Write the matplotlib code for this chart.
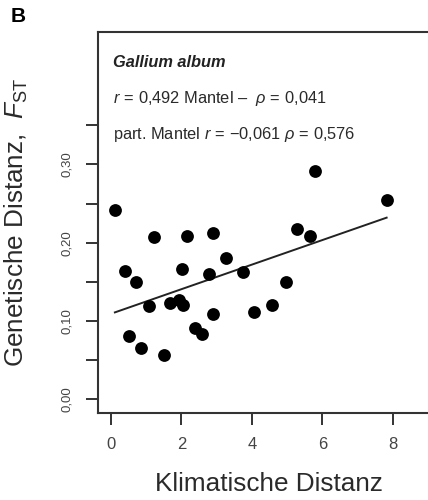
import numpy as np
import matplotlib
matplotlib.use("Agg")
import matplotlib.pyplot as plt

plt.rcParams['font.family'] = ['Liberation Sans', 'DejaVu Sans']
plt.rcParams['mathtext.fontset'] = 'custom'
plt.rcParams['mathtext.rm'] = 'Liberation Sans'
plt.rcParams['mathtext.it'] = 'Liberation Sans:italic'
plt.rcParams['mathtext.bf'] = 'Liberation Sans:bold'

# climatic distance vs. genetic distance (F_ST), Galium album
klima = [0.11, 5.79, 7.82, 1.23, 2.15, 2.88, 5.27, 5.66, 0.40, 0.70,
         2.02, 3.26, 2.78, 3.75, 4.96, 1.09, 1.67, 1.93, 2.05, 2.90,
         4.05, 4.56, 0.52, 0.84, 1.50, 2.38, 2.57]
fst = [0.242, 0.291, 0.2545, 0.207, 0.208, 0.213, 0.217, 0.208, 0.164, 0.150,
       0.166, 0.180, 0.160, 0.162, 0.150, 0.119, 0.123, 0.127, 0.120, 0.109,
       0.111, 0.121, 0.081, 0.066, 0.056, 0.0915, 0.084]

# regression line end points
fit_x = [0.11, 7.82]
fit_y = [0.111, 0.232]

xticks = [0, 2, 4, 6, 8]
yticks = [0.00, 0.05, 0.10, 0.15, 0.20, 0.25, 0.30, 0.35]
ylabels = ['0,00', '', '0,10', '', '0,20', '', '0,30', '']

grey = '#333333'

fig = plt.figure(figsize=(4.28, 5.0), dpi=100)
ax = fig.add_axes([0.2297, 0.174, 0.798, 0.7626])

ax.scatter(klima, fst, s=85, color='black', zorder=3, linewidths=0)
ax.plot(fit_x, fit_y, color='#222222', lw=1.4)

ax.set_xlim(-0.36, 9.33)
ax.set_ylim(-0.0175, 0.4695)
ax.set_xticks(xticks)
ax.set_xticklabels([str(t) for t in xticks], fontsize=12, color='#444444')
ax.set_yticks(yticks)
ax.set_yticklabels(ylabels, fontsize=9.5, color='#444444', rotation=90, va='center')
ax.tick_params(axis='both', direction='out', length=8.5, width=1.4, color=grey)
ax.tick_params(axis='x', pad=9)
ax.tick_params(axis='y', pad=10)

for side in ['left', 'bottom', 'top', 'right']:
    ax.spines[side].set_linewidth(1.5)
    ax.spines[side].set_color(grey)

ax.set_xlabel('Klimatische Distanz', fontsize=18.8, color='#2a2a2a')
ax.xaxis.set_label_coords(0.5, -0.155)
ax.set_ylabel(r'Genetische Distanz,  $F_{\mathrm{ST}}$', fontsize=18.8, color='#2a2a2a')
ax.yaxis.set_label_coords(-0.2, 0.5)

tx = (113 - 98.3) / 341.7
ax.text(tx, 1 - (62 - 31.7) / 381.3, 'Gallium album', transform=ax.transAxes,
        fontsize=11.8, fontweight='bold', fontstyle='italic', color='#222222', va='center')
ax.text(tx, 1 - (98 - 31.7) / 381.3, r'$r\,=\,0{,}492$ Mantel –  $\rho\,=\,0{,}041$',
        transform=ax.transAxes, fontsize=11.8, color='#2a2a2a', va='center')
ax.text(tx, 1 - (134 - 31.7) / 381.3, r'part. Mantel $r\,=\,{-}0{,}061$ $\rho\,=\,0{,}576$',
        transform=ax.transAxes, fontsize=11.8, color='#2a2a2a', va='center')

fig.text(18 / 428, 1 - 16 / 500, 'B', fontsize=15, fontweight='bold', va='center', ha='center')

fig.savefig('out.png', dpi=100)
